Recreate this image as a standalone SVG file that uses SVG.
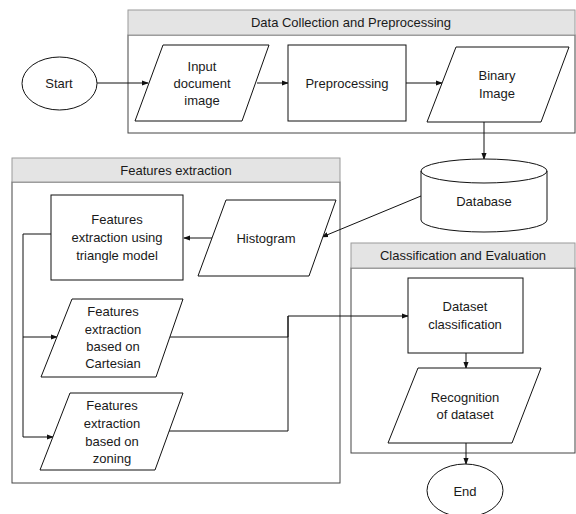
<svg xmlns="http://www.w3.org/2000/svg" width="576" height="514" viewBox="0 0 576 514">
<defs>
<style>
text{font-family:"Liberation Sans",Arial,sans-serif;font-size:13px;fill:#1a1a1a;text-anchor:middle}
.hdr{fill:#e4e4e4;stroke:#9a9a9a;stroke-width:1}
.body{fill:#fff;stroke:#444;stroke-width:1}
.node{fill:#fff;stroke:#111;stroke-width:1}
.conn{fill:none;stroke:#111;stroke-width:1}
</style>
<marker id="arr" viewBox="0 0 8 8" refX="7" refY="4" markerWidth="7" markerHeight="7" markerUnits="userSpaceOnUse" orient="auto">
<path d="M0,1 L8,4 L0,7 Z" fill="#111"/>
</marker>
</defs>
<rect width="576" height="514" fill="#fff"/>

<g id="group-data-collection">
<rect class="body" x="128" y="35" width="447" height="98"/>
<rect class="hdr" x="128" y="10" width="447" height="25"/>
<text x="351" y="27">Data Collection and Preprocessing</text>
</g>
<g id="group-features-extraction">
<rect class="body" x="12" y="182" width="328" height="301"/>
<rect class="hdr" x="12" y="158" width="328" height="24"/>
<text x="176" y="175">Features extraction</text>
</g>
<g id="group-classification">
<rect class="body" x="351" y="268" width="224" height="185"/>
<rect class="hdr" x="351" y="243" width="224" height="25"/>
<text x="463" y="260">Classification and Evaluation</text>
</g>

<g id="connectors">
<path class="conn" d="M97,83 H148" marker-end="url(#arr)"/>
<path class="conn" d="M257,83 H288" marker-end="url(#arr)"/>
<path class="conn" d="M406,83 H442" marker-end="url(#arr)"/>
<path class="conn" d="M484,122 V159" marker-end="url(#arr)"/>
<path class="conn" d="M421,196 L322,237" marker-end="url(#arr)"/>
<path class="conn" d="M212,238 H184" marker-end="url(#arr)"/>
<path class="conn" d="M51,234 H23 V437 H53" marker-end="url(#arr)"/>
<path class="conn" d="M23,337 H57" marker-end="url(#arr)"/>
<path class="conn" d="M170,337 H288 V316 H408" marker-end="url(#arr)"/>
<path class="conn" d="M169,431 H288 V316"/>
<path class="conn" d="M466,353 V368" marker-end="url(#arr)"/>
<path class="conn" d="M466,443 V464" marker-end="url(#arr)"/>
</g>

<g id="start">
<ellipse class="node" cx="59.5" cy="83.5" rx="37.5" ry="26.5"/>
<text x="59" y="88">Start</text>
</g>
<g id="input-document-image">
<polygon class="node" points="163,45 269,45 242,121 135,121"/>
<text x="202" y="71">Input</text>
<text x="202" y="88">document</text>
<text x="202" y="105">image</text>
</g>
<g id="preprocessing">
<rect class="node" x="288" y="45" width="118" height="76"/>
<text x="347" y="88">Preprocessing</text>
</g>
<g id="binary-image">
<polygon class="node" points="456,47 569,47 541,122 427,122"/>
<text x="497" y="80">Binary</text>
<text x="497" y="98">Image</text>
</g>
<g id="database">
<path class="node" d="M421,171 A63,12 0 0 1 547,171 V220 A63,12 0 0 1 421,220 Z"/>
<path class="conn" d="M421,171 A63,12 0 0 0 547,171"/>
<text x="484" y="206">Database</text>
</g>
<g id="histogram">
<polygon class="node" points="226,200 336,200 309,276 198,276"/>
<text x="266" y="243">Histogram</text>
</g>
<g id="triangle-model">
<rect class="node" x="51" y="195" width="132" height="85"/>
<text x="117" y="224">Features</text>
<text x="117" y="242">extraction using</text>
<text x="117" y="260">triangle model</text>
</g>
<g id="cartesian">
<polygon class="node" points="72,299 183,299 156,377 41,377"/>
<text x="113" y="316">Features</text>
<text x="113" y="334">extraction</text>
<text x="113" y="351">based on</text>
<text x="113" y="368">Cartesian</text>
</g>
<g id="zoning">
<polygon class="node" points="70,393 183,393 155,470 40,470"/>
<text x="112" y="410">Features</text>
<text x="112" y="428">extraction</text>
<text x="112" y="446">based on</text>
<text x="112" y="463">zoning</text>
</g>
<g id="dataset-classification">
<rect class="node" x="408" y="278" width="115" height="75"/>
<text x="465" y="311">Dataset</text>
<text x="465" y="329">classification</text>
</g>
<g id="recognition">
<polygon class="node" points="418,368 541,368 512,443 388,443"/>
<text x="465" y="402">Recognition</text>
<text x="465" y="419">of dataset</text>
</g>
<g id="end">
<ellipse class="node" cx="465" cy="490.5" rx="38" ry="26.5"/>
<text x="465" y="496">End</text>
</g>
</svg>
